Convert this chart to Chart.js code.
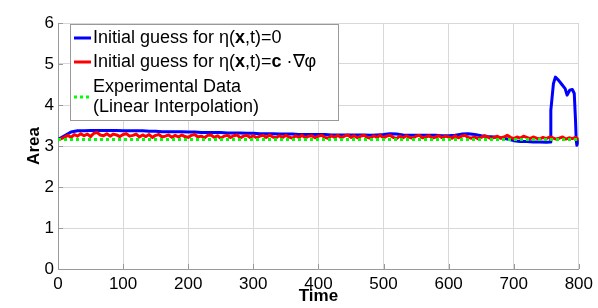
<!DOCTYPE html>
<html>
<head>
<meta charset="utf-8">
<script src="https://cdn.jsdelivr.net/npm/chart.js@4"></script>
<style>
  html, body { margin: 0; padding: 0; background: #fff; }
  #wrap { width: 598px; height: 308px; }
</style>
</head>
<body>
<div id="wrap"><canvas id="areaChart" width="598" height="308"></canvas></div>
<script>
// axis ticks
const xTicks = [0, 100, 200, 300, 400, 500, 600, 700, 800];
const yTicks = [0, 1, 2, 3, 4, 5, 6];

// blue: initial guess eta = 0
const blueTime = [0, 10, 20, 30, 40, 50, 60, 70, 80, 90, 100, 110, 120, 130, 140, 150, 160, 170, 180, 190,
  200, 210, 220, 230, 240, 250, 260, 270, 280, 290, 300, 310, 320, 330, 340, 350, 360, 370, 380, 390,
  400, 410, 420, 430, 440, 450, 460, 470, 480, 490, 500, 510, 520, 530, 540, 550, 560, 570, 580, 590,
  600, 610, 620, 630, 640, 650, 660, 670, 680, 690, 700, 710, 720, 730, 740, 750, 756, 757, 761, 764,
  769, 774, 779, 782, 786, 790, 793, 795, 796, 797, 800];
const blueArea = [3.16, 3.25, 3.34, 3.37, 3.37, 3.38, 3.38, 3.38, 3.38, 3.38, 3.37, 3.37, 3.37, 3.37, 3.36, 3.36, 3.35, 3.35, 3.35, 3.35,
  3.34, 3.34, 3.33, 3.33, 3.33, 3.33, 3.32, 3.32, 3.32, 3.31, 3.31, 3.30, 3.30, 3.30, 3.29, 3.29, 3.29, 3.28, 3.28, 3.28,
  3.28, 3.28, 3.27, 3.27, 3.27, 3.27, 3.27, 3.27, 3.26, 3.27, 3.28, 3.30, 3.29, 3.27, 3.26, 3.26, 3.26, 3.26, 3.26, 3.25,
  3.25, 3.26, 3.29, 3.30, 3.28, 3.25, 3.23, 3.22, 3.20, 3.17, 3.13, 3.11, 3.11, 3.10, 3.10, 3.09, 3.10, 3.87, 4.52, 4.68,
  4.60, 4.50, 4.40, 4.24, 4.36, 4.38, 4.28, 3.60, 3.14, 3.02, 3.15];

// red: initial guess eta = c . grad phi (sampled every 5 time units)
const redArea = [
  3.15, 3.18, 3.21, 3.26, 3.21, 3.28, 3.24, 3.30, 3.25, 3.29, 3.23, 3.31, 3.33, 3.27, 3.25, 3.30, 3.24, 3.29, 3.27, 3.23,
  3.28, 3.30, 3.24, 3.26, 3.29, 3.22, 3.27, 3.23, 3.28, 3.21, 3.26, 3.28, 3.22, 3.24, 3.27, 3.21, 3.26, 3.22, 3.27, 3.23,
  3.21, 3.26, 3.28, 3.22, 3.24, 3.20, 3.26, 3.27, 3.21, 3.25, 3.19, 3.24, 3.26, 3.21, 3.25, 3.27, 3.20, 3.24, 3.26, 3.21,
  3.25, 3.20, 3.24, 3.26, 3.21, 3.27, 3.22, 3.20, 3.25, 3.21, 3.26, 3.22, 3.19, 3.25, 3.21, 3.26, 3.20, 3.24, 3.25, 3.20,
  3.24, 3.26, 3.21, 3.19, 3.25, 3.21, 3.26, 3.20, 3.24, 3.27, 3.21, 3.25, 3.20, 3.24, 3.26, 3.21, 3.19, 3.25, 3.21, 3.26,
  3.20, 3.24, 3.26, 3.21, 3.18, 3.24, 3.20, 3.25, 3.21, 3.19, 3.24, 3.26, 3.20, 3.22, 3.25, 3.19, 3.22, 3.25, 3.20, 3.24,
  3.22, 3.19, 3.25, 3.20, 3.24, 3.26, 3.21, 3.19, 3.22, 3.18, 3.21, 3.25, 3.22, 3.18, 3.21, 3.24, 3.19, 3.22, 3.26, 3.21,
  3.18, 3.22, 3.19, 3.24, 3.21, 3.18, 3.22, 3.19, 3.17, 3.21, 3.18, 3.22, 3.20, 3.17, 3.19, 3.22, 3.17, 3.20, 3.18, 3.21,
  3.15];
const redStep = 5;

// green: experimental data (linear interpolation)
const greenTime = [0, 100, 200, 300, 400, 500, 600, 700, 800];
const greenArea = [3.16, 3.16, 3.16, 3.16, 3.16, 3.16, 3.16, 3.16, 3.16];

const toPoints = (xs, ys) => ys.map((y, i) => ({ x: xs[i], y: y }));
const redTime = redArea.map((v, i) => i * redStep);

const FONT = "'Liberation Sans', Arial, Helvetica, sans-serif";

// legend with mixed bold text, drawn on top of the lines
const matlabLegend = {
  id: 'matlabLegend',
  afterDatasetsDraw(chart) {
    const ctx = chart.ctx;
    const bx = 70.5, by = 24.5, bw = 268, bh = 96;
    ctx.save();
    ctx.fillStyle = '#fff';
    ctx.fillRect(bx, by, bw, bh);
    ctx.strokeStyle = '#999';
    ctx.lineWidth = 1;
    ctx.strokeRect(bx, by, bw, bh);

    const rows = [
      { color: '#0000ff', y: 38, parts: [['Initial guess for η(', false], ['x', true], [',t)=0', false]] },
      { color: '#ff0000', y: 62, parts: [['Initial guess for η(', false], ['x', true], [',t)=', false], ['c', true], [' ·∇φ', false]] }
    ];
    ctx.textBaseline = 'middle';
    rows.forEach(r => {
      ctx.strokeStyle = r.color;
      ctx.lineWidth = 3;
      ctx.beginPath();
      ctx.moveTo(74, r.y);
      ctx.lineTo(91, r.y);
      ctx.stroke();
      let tx = 93;
      ctx.fillStyle = '#000';
      r.parts.forEach(p => {
        ctx.font = (p[1] ? 'bold ' : '') + '18px ' + FONT;
        ctx.fillText(p[0], tx, r.y);
        tx += ctx.measureText(p[0]).width;
      });
    });
    ctx.strokeStyle = '#00ff00';
    ctx.lineWidth = 3;
    ctx.setLineDash([3, 3]);
    ctx.beginPath();
    ctx.moveTo(74, 97);
    ctx.lineTo(91, 97);
    ctx.stroke();
    ctx.setLineDash([]);
    ctx.font = '18px ' + FONT;
    ctx.fillStyle = '#000';
    ctx.fillText('Experimental Data', 93, 87);
    ctx.fillText('(Linear Interpolation)', 93, 107);
    ctx.restore();
  }
};

// short inward tick marks on the left and bottom axes
const innerTicks = {
  id: 'innerTicks',
  beforeDatasetsDraw(chart) {
    const ctx = chart.ctx;
    const xs = chart.scales.x, ys = chart.scales.y;
    const a = chart.chartArea;
    ctx.save();
    ctx.strokeStyle = '#999';
    ctx.lineWidth = 1;
    ctx.beginPath();
    xTicks.forEach(v => {
      const px = Math.round(xs.getPixelForValue(v)) + 0.5;
      ctx.moveTo(px, a.bottom);
      ctx.lineTo(px, a.bottom - 5);
    });
    yTicks.forEach(v => {
      const py = Math.round(ys.getPixelForValue(v)) + 0.5;
      ctx.moveTo(a.left, py);
      ctx.lineTo(a.left + 5, py);
    });
    ctx.stroke();
    ctx.restore();
  }
};

document.addEventListener('DOMContentLoaded', function () {
  const ctx = document.getElementById('areaChart').getContext('2d');

  new Chart(ctx, {
    type: 'line',
    data: {
      datasets: [
        {
          label: 'Experimental Data (Linear Interpolation)',
          data: toPoints(greenTime, greenArea),
          borderColor: '#00ff00',
          borderWidth: 3,
          borderDash: [3, 3],
          pointRadius: 0,
          order: 0
        },
        {
          label: 'Initial guess for η(x,t)=c ·∇φ',
          data: toPoints(redTime, redArea),
          borderColor: '#ff0000',
          borderWidth: 3,
          pointRadius: 0,
          order: 1
        },
        {
          label: 'Initial guess for η(x,t)=0',
          data: toPoints(blueTime, blueArea),
          borderColor: '#0000ff',
          borderWidth: 3,
          pointRadius: 0,
          order: 2
        }
      ]
    },
    options: {
      responsive: false,
      animation: false,
      layout: { padding: { left: 24, right: 19, top: 23, bottom: 1 } },
      plugins: {
        legend: { display: false },
        tooltip: { enabled: false }
      },
      elements: { line: { tension: 0, borderJoinStyle: 'round' } },
      scales: {
        x: {
          type: 'linear',
          min: 0,
          max: 800,
          afterBuildTicks: s => { s.ticks = xTicks.map(v => ({ value: v })); },
          afterFit: s => { s.height = 38; },
          grid: { color: '#d8d8d8', drawTicks: false },
          border: { display: true, color: '#999', width: 1 },
          ticks: { color: '#000', padding: 5, maxRotation: 0, font: { family: FONT, size: 17 } },
          title: { display: true, text: 'Time', color: '#000', padding: 0, font: { family: FONT, size: 17, weight: 'bold' } }
        },
        y: {
          min: 0,
          max: 6,
          afterBuildTicks: s => { s.ticks = yTicks.map(v => ({ value: v })); },
          afterFit: s => { s.width = 34; },
          grid: { color: '#d8d8d8', drawTicks: false },
          border: { display: true, color: '#999', width: 1 },
          ticks: { color: '#000', padding: 4, font: { family: FONT, size: 17 } },
          title: { display: true, text: 'Area', color: '#000', padding: 0, font: { family: FONT, size: 17, weight: 'bold' } }
        }
      }
    },
    plugins: [innerTicks, matlabLegend]
  });
});
</script>
</body>
</html>
